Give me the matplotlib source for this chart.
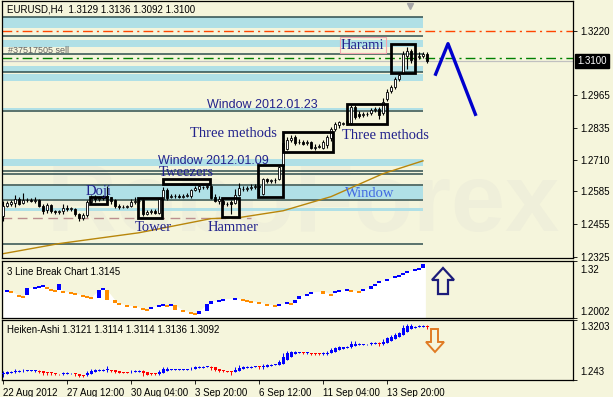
import matplotlib
matplotlib.use("Agg")
import matplotlib.pyplot as plt
from matplotlib.patches import Rectangle, Polygon
import numpy as np

plt.rcParams["font.family"] = ["Liberation Sans", "DejaVu Sans"]

BG = "#F5F5DC"
BAND = "#B0E0E6"
DARK = "#2F4F4F"
LABEL = "#22228C"

# EURUSD H4 candles (bar 0 = 22 Aug 2012)
opens = [
    1.2487, 1.2527, 1.2535, 1.2539, 1.2555, 1.2539, 1.2551, 1.2549, 1.2547, 1.2551,
    1.2527, 1.2511, 1.2531, 1.2507, 1.2503, 1.2505, 1.2519, 1.2515, 1.2515, 1.2495,
    1.2479, 1.2491, 1.2543, 1.2557, 1.2555, 1.2559, 1.2563, 1.2561, 1.2549, 1.2527,
    1.2523, 1.2521, 1.2525, 1.2543, 1.2547, 1.2551, 1.2495, 1.2503, 1.2507, 1.2499,
    1.2555, 1.2590, 1.2563, 1.2567, 1.2565, 1.2561, 1.2567, 1.2567, 1.2590, 1.2594,
    1.2602, 1.2600, 1.2606, 1.2563, 1.2547, 1.2547, 1.2535, 1.2543, 1.2539, 1.2571,
    1.2594, 1.2592, 1.2598, 1.2602, 1.2606, 1.2574, 1.2634, 1.2626, 1.2628, 1.2634,
    1.2685, 1.2753, 1.2788, 1.2800, 1.2780, 1.2778, 1.2776, 1.2780, 1.2757, 1.2761,
    1.2757, 1.2768, 1.2796, 1.2832, 1.2848, 1.2852, 1.2856, 1.2856, 1.2919, 1.2891,
    1.2887, 1.2891, 1.2895, 1.2907, 1.2911, 1.2895, 1.2951, 1.2982, 1.2998, 1.3030,
    1.3054, 1.3121, 1.3141, 1.3109, 1.3117, 1.3121, 1.3129,
]
closes = [
    1.2527, 1.2539, 1.2543, 1.2555, 1.2535, 1.2551, 1.2549, 1.2547, 1.2551, 1.2527,
    1.2507, 1.2531, 1.2507, 1.2503, 1.2505, 1.2519, 1.2515, 1.2517, 1.2495, 1.2479,
    1.2491, 1.2543, 1.2559, 1.2555, 1.2559, 1.2563, 1.2567, 1.2547, 1.2527, 1.2523,
    1.2521, 1.2525, 1.2543, 1.2547, 1.2545, 1.2495, 1.2503, 1.2507, 1.2499, 1.2555,
    1.2590, 1.2559, 1.2567, 1.2565, 1.2561, 1.2567, 1.2571, 1.2590, 1.2598, 1.2606,
    1.2600, 1.2606, 1.2559, 1.2547, 1.2555, 1.2535, 1.2533, 1.2535, 1.2571, 1.2598,
    1.2592, 1.2598, 1.2602, 1.2606, 1.2602, 1.2634, 1.2626, 1.2628, 1.2630, 1.2681,
    1.2776, 1.2788, 1.2796, 1.2776, 1.2778, 1.2772, 1.2780, 1.2757, 1.2761, 1.2765,
    1.2780, 1.2800, 1.2832, 1.2852, 1.2860, 1.2856, 1.2864, 1.2919, 1.2879, 1.2883,
    1.2891, 1.2889, 1.2907, 1.2911, 1.2887, 1.2939, 1.2978, 1.2998, 1.3030, 1.3046,
    1.3129, 1.3141, 1.3105, 1.3113, 1.3121, 1.3129, 1.3100,
]
highs = [
    1.2547, 1.2547, 1.2551, 1.2571, 1.2563, 1.2578, 1.2559, 1.2559, 1.2563, 1.2555,
    1.2535, 1.2539, 1.2535, 1.2511, 1.2511, 1.2535, 1.2531, 1.2523, 1.2519, 1.2499,
    1.2499, 1.2551, 1.2571, 1.2571, 1.2567, 1.2571, 1.2606, 1.2563, 1.2555, 1.2535,
    1.2531, 1.2531, 1.2555, 1.2563, 1.2559, 1.2555, 1.2511, 1.2515, 1.2515, 1.2559,
    1.2602, 1.2598, 1.2574, 1.2574, 1.2574, 1.2574, 1.2578, 1.2594, 1.2606, 1.2610,
    1.2606, 1.2614, 1.2610, 1.2574, 1.2567, 1.2555, 1.2543, 1.2551, 1.2594, 1.2618,
    1.2606, 1.2606, 1.2614, 1.2614, 1.2610, 1.2638, 1.2638, 1.2634, 1.2638, 1.2685,
    1.2784, 1.2800, 1.2808, 1.2808, 1.2792, 1.2788, 1.2788, 1.2784, 1.2772, 1.2772,
    1.2788, 1.2808, 1.2840, 1.2860, 1.2864, 1.2860, 1.2872, 1.2927, 1.2927, 1.2903,
    1.2899, 1.2899, 1.2915, 1.2919, 1.2919, 1.2955, 1.2990, 1.3006, 1.3038, 1.3054,
    1.3141, 1.3157, 1.3149, 1.3125, 1.3137, 1.3137, 1.3136,
]
lows = [
    1.2468, 1.2523, 1.2527, 1.2523, 1.2531, 1.2535, 1.2543, 1.2543, 1.2539, 1.2523,
    1.2495, 1.2499, 1.2499, 1.2495, 1.2495, 1.2495, 1.2507, 1.2507, 1.2487, 1.2468,
    1.2472, 1.2483, 1.2535, 1.2543, 1.2547, 1.2551, 1.2539, 1.2535, 1.2519, 1.2515,
    1.2519, 1.2519, 1.2523, 1.2535, 1.2539, 1.2487, 1.2491, 1.2495, 1.2495, 1.2495,
    1.2551, 1.2551, 1.2559, 1.2559, 1.2559, 1.2559, 1.2563, 1.2559, 1.2586, 1.2582,
    1.2594, 1.2594, 1.2555, 1.2543, 1.2535, 1.2527, 1.2527, 1.2495, 1.2535, 1.2567,
    1.2586, 1.2586, 1.2590, 1.2594, 1.2567, 1.2571, 1.2618, 1.2618, 1.2618, 1.2630,
    1.2681, 1.2749, 1.2780, 1.2768, 1.2772, 1.2768, 1.2768, 1.2753, 1.2749, 1.2757,
    1.2753, 1.2757, 1.2784, 1.2824, 1.2836, 1.2848, 1.2848, 1.2848, 1.2872, 1.2875,
    1.2879, 1.2883, 1.2887, 1.2899, 1.2872, 1.2887, 1.2943, 1.2974, 1.2990, 1.3022,
    1.3050, 1.3070, 1.3093, 1.3101, 1.3109, 1.3113, 1.3092,
]

# moving average (sampled at a few bars)
ma_pos = [0, 14, 34, 52, 59, 70, 82, 95, 105]
ma_val = [1.2337, 1.2377, 1.2420, 1.2476, 1.2480, 1.2507, 1.2563, 1.2654, 1.2705]

# forecast zigzag
zz_pos = [108, 111.25, 118.25]
zz_val = [1.3042, 1.3169, 1.2883]

# support / resistance zones and lines
bands = [(1.3232, 1.3275), (1.3157, 1.3184), (1.3058, 1.3081), (1.3022, 1.3050),
         (1.2907, 1.2915), (1.2685, 1.2713), (1.2555, 1.2606), (1.2507, 1.2519)]
levels = [1.3275, 1.3200, 1.3129, 1.3058, 1.2903, 1.2666, 1.2654, 1.2610, 1.2551, 1.2377]

# candlestick patterns: (first bar, last bar, low, high)
boxes = [(97, 103, 1.3054, 1.3169), (86, 96, 1.2852, 1.2931), (70, 82.5, 1.2741, 1.2820),
         (63.75, 70, 1.2563, 1.2689), (54.75, 59, 1.2483, 1.2559), (33.75, 39.75, 1.2479, 1.2559),
         (40, 51.75, 1.2614, 1.2634), (21.75, 26, 1.2535, 1.2563)]

# 3 line break bricks
lb_pos = [1, 2, 4, 5, 6, 8, 9, 10, 11, 12,
          13, 14, 15, 17, 18, 20, 21, 22, 24, 25,
          26, 28, 29, 31, 33, 35, 36, 37, 39, 40,
          41, 42, 43, 45, 47, 48, 49, 51, 52, 54,
          55, 58, 60, 61, 62, 64, 66, 68, 69, 71,
          72, 73, 74, 76, 77, 80, 82, 83, 84, 86,
          87, 89, 90, 92, 93, 94, 96, 98, 99, 100,
          101, 103, 104, 105]
lb_top = [1.2591, 1.2570, 1.2486, 1.2465, 1.2633, 1.2654, 1.2675, 1.2696, 1.2654, 1.2612,
          1.2591, 1.2717, 1.2570, 1.2549, 1.2528, 1.2486, 1.2465, 1.2444, 1.2591, 1.2633,
          1.2591, 1.2381, 1.2318, 1.2276, 1.2255, 1.2213, 1.2192, 1.2234, 1.2276, 1.2297,
          1.2276, 1.2297, 1.2276, 1.2171, 1.2129, 1.2108, 1.2150, 1.2297, 1.2360, 1.2381,
          1.2402, 1.2423, 1.2402, 1.2381, 1.2360, 1.2339, 1.2297, 1.2276, 1.2297, 1.2339,
          1.2318, 1.2381, 1.2465, 1.2507, 1.2549, 1.2570, 1.2507, 1.2570, 1.2591, 1.2612,
          1.2591, 1.2570, 1.2612, 1.2675, 1.2717, 1.2780, 1.2822, 1.2885, 1.2906, 1.2948,
          1.2990, 1.3032, 1.3053, 1.3145]
lb_bot = [1.2570, 1.2528, 1.2465, 1.2444, 1.2486, 1.2633, 1.2654, 1.2675, 1.2612, 1.2591,
          1.2570, 1.2591, 1.2549, 1.2528, 1.2507, 1.2465, 1.2444, 1.2423, 1.2423, 1.2591,
          1.2381, 1.2318, 1.2297, 1.2255, 1.2234, 1.2192, 1.2171, 1.2213, 1.2255, 1.2276,
          1.2255, 1.2276, 1.2171, 1.2150, 1.2108, 1.2087, 1.2087, 1.2150, 1.2297, 1.2360,
          1.2381, 1.2402, 1.2381, 1.2360, 1.2339, 1.2318, 1.2276, 1.2255, 1.2276, 1.2318,
          1.2297, 1.2318, 1.2402, 1.2486, 1.2528, 1.2507, 1.2486, 1.2528, 1.2549, 1.2591,
          1.2570, 1.2549, 1.2570, 1.2612, 1.2675, 1.2738, 1.2801, 1.2864, 1.2885, 1.2927,
          1.2969, 1.3011, 1.3032, 1.3053]
lb_up = [1, 0, 0, 0, 1, 1, 1, 1, 0, 0,
         0, 1, 0, 0, 0, 0, 0, 0, 1, 1,
         0, 0, 0, 0, 0, 0, 0, 1, 1, 1,
         0, 1, 0, 0, 0, 0, 1, 1, 1, 1,
         1, 1, 0, 0, 0, 0, 0, 0, 1, 1,
         0, 1, 1, 1, 1, 0, 0, 1, 1, 1,
         0, 0, 1, 1, 1, 1, 1, 1, 1, 1,
         1, 1, 1, 1]

date_pos = [0, 16, 32, 48, 64, 80, 96]
date_labels = ["22 Aug 2012", "27 Aug 12:00", "30 Aug 04:00", "3 Sep 20:00",
               "6 Sep 12:00", "11 Sep 04:00", "13 Sep 20:00"]
price_ticks = [1.3220, 1.2965, 1.2835, 1.2710, 1.2585, 1.2455, 1.2325]

o, c, h, l = (np.array(v) for v in (opens, closes, highs, lows))
x = np.arange(len(o))
XL = (-0.25, 142.5)
ZONE_END = 105

W, H = 613, 397
fig = plt.figure(figsize=(W / 100, H / 100), dpi=100, facecolor=BG)


def panel(top, bottom):
    a = fig.add_axes([2 / W, 1 - bottom / H, 571 / W, (bottom - top) / H])
    a.set_facecolor(BG)
    a.set_xlim(*XL)
    for s in a.spines.values():
        s.set_color("black")
        s.set_linewidth(0.9)
    a.tick_params(labelsize=7, length=3, width=0.6, pad=2)
    return a


ax = panel(1, 258)
ax2 = panel(261, 318)
ax3 = panel(320, 380)

# ---------------- main chart ----------------
ax.set_ylim(1.2320, 1.3338)
ax.text(75, 1.2525, "RoboForex", fontsize=70, fontweight="bold", color="#EFEFDA",
        ha="center", va="center", zorder=0)
for lo_, hi_ in bands:
    ax.fill_between([XL[0], ZONE_END], lo_, hi_, color=BAND, lw=0, zorder=1)
ax.hlines(levels, XL[0], ZONE_END, color=DARK, lw=1.1, zorder=1.5)
ax.axhline(1.3220, color="#FF4500", lw=1, ls=(0, (7, 3, 1.5, 3)), zorder=1.5)
ax.axhline(1.3113, color="#008000", lw=1, ls=(0, (7, 3, 1.5, 3)), zorder=1.5)
ax.axhline(1.3100, color="#C0C0C0", lw=0.9, zorder=1.5)
ax.hlines(1.2479, XL[0], 62, color="#BC8F8F", lw=1, ls=(0, (7, 4)), zorder=1.5)
ax.plot(ma_pos, ma_val, color="#B8860B", lw=1, zorder=2)

up = c >= o
ax.vlines(x, l, h, color="black", lw=0.8, zorder=3)
body = np.maximum(np.abs(c - o), 0.00012)
ax.bar(x, body, bottom=np.minimum(o, c), width=0.65,
       color=np.where(up, "white", "black"), edgecolor="black", linewidth=0.6, zorder=4)

for x0, x1, y0, y1 in boxes:
    ax.add_patch(Rectangle((x0, y0), x1 - x0, y1 - y0, fill=False, ec="black", lw=2, zorder=5))

ax.plot(zz_pos, zz_val, color="#0000CD", lw=2.4, solid_capstyle="butt", zorder=5)
ax.plot(101.75, 1.3320, marker="v", color="#A8A8A8", ms=5, zorder=5)

serif = dict(family="Liberation Serif", fontsize=10.5, color=LABEL, va="center", ha="left", zorder=6)
ax.text(84.5, 1.3163, "Harami", bbox=dict(boxstyle="square,pad=0.1", fc="none", ec="#F4A6AE", lw=0.8), **serif)
ax.text(46.75, 1.2812, "Three methods", **serif)
ax.text(84.75, 1.2804, "Three methods", **serif)
ax.text(39, 1.2658, "Tweezers", **serif)
ax.text(20.75, 1.2582, "Doji", **serif)
ax.text(33, 1.2440, "Tower", **serif)
ax.text(51.25, 1.2440, "Hammer", **serif)
ax.text(85.5, 1.2574, "Window", family="Liberation Serif", fontsize=10.5, color="#4169E1",
        va="center", ha="left", zorder=6)
ax.text(51, 1.2927, "Window 2012.01.23", fontsize=9, color=LABEL, va="center", zorder=6)
ax.text(38.75, 1.2705, "Window 2012.01.09", fontsize=9, color=LABEL, va="center", zorder=6)
ax.text(1.25, 1.3141, "#37517505 sell", fontsize=6.5, color="#606060", va="center", zorder=6)
ax.text(5 / 571, 0.965, "EURUSD,H4  1.3129 1.3136 1.3092 1.3100", transform=ax.transAxes,
        fontsize=7, va="center", zorder=6)

ax.set_xticks([])
ax.yaxis.tick_right()
ax.set_yticks(price_ticks)
ax.set_yticklabels([f"{v:.4f}" for v in price_ticks])
ax.annotate("1.3100", xy=(1, 1.3100), xycoords=("axes fraction", "data"), xytext=(3, 0),
            textcoords="offset points", fontsize=7, color="white", va="center",
            bbox=dict(boxstyle="square,pad=0.2", fc="black", ec="black"), annotation_clip=False)

# ---------------- 3 line break ----------------
ax2.set_ylim(1.2002, 1.3200)
ax2.fill_between([0] + lb_pos + [105.6], [lb_top[0]] + lb_top + [lb_top[-1]], 1.2002,
                 color="white", lw=0, zorder=1)
lb_colors = ["#0000FF" if u else "#FF8C00" for u in lb_up]
lb_h = np.maximum(np.array(lb_top) - np.array(lb_bot), 0.0035)
ax2.bar(lb_pos, lb_h, bottom=np.array(lb_top) - lb_h, width=0.95,
        color=lb_colors, lw=0, zorder=2)
ax2.add_patch(Polygon([(107.25, 1.2801), (110, 1.3053), (112.75, 1.2801), (111.25, 1.2801),
                       (111.25, 1.2506), (108.75, 1.2506), (108.75, 1.2801)],
                      closed=True, fc=BG, ec="#1C1C7A", lw=1.6, zorder=3))
ax2.text(5 / 571, 0.80, "3 Line Break Chart 1.3145", transform=ax2.transAxes, fontsize=7, va="center")
ax2.set_xticks([])
ax2.yaxis.tick_right()
ax2.set_yticks([1.2002, 1.3200])
ax2.set_yticklabels([])
ax2.text(1.012, 0.842, "1.32", transform=ax2.transAxes, fontsize=7, va="center")
ax2.text(1.012, 0.111, "1.2002", transform=ax2.transAxes, fontsize=7, va="center")

# ---------------- Heiken-Ashi ----------------
ha_c = (o + h + l + c) / 4
ha_o = np.empty_like(ha_c)
ha_o[0] = (o[0] + c[0]) / 2
for i in range(1, len(ha_c)):
    ha_o[i] = (ha_o[i - 1] + ha_c[i - 1]) / 2
ha_h = np.maximum(h, np.maximum(ha_o, ha_c))
ha_l = np.minimum(l, np.minimum(ha_o, ha_c))
ha_col = np.where(ha_c >= ha_o, "#0000FF", "#FF0000")

ax3.set_ylim(1.2430, 1.3203)
ax3.vlines(x, ha_l, ha_h, colors=ha_col, lw=0.7, zorder=2)
ax3.bar(x, np.maximum(np.abs(ha_c - ha_o), 0.0010), bottom=np.minimum(ha_o, ha_c),
        width=0.75, color=ha_col, lw=0, zorder=3)
ax3.add_patch(Polygon([(107, 1.3087), (108.75, 1.3087), (108.75, 1.2920), (110.25, 1.2920),
                       (108, 1.2791), (105.75, 1.2920), (107, 1.2920)],
                      closed=True, fc=BG, ec="#E07B24", lw=1.4, zorder=3))
ax3.text(5 / 571, 0.83, "Heiken-Ashi 1.3121 1.3114 1.3114 1.3136 1.3092",
         transform=ax3.transAxes, fontsize=7, va="center")
ax3.yaxis.tick_right()
ax3.set_yticks([1.2430, 1.3203])
ax3.set_yticklabels([])
ax3.text(1.012, 0.875, "1.3203", transform=ax3.transAxes, fontsize=7, va="center")
ax3.text(1.012, 0.128, "1.243", transform=ax3.transAxes, fontsize=7, va="center")
ax3.set_xticks(date_pos)
ax3.set_xticklabels(date_labels, ha="left")
ax3.tick_params(axis="x", pad=3)

fig.savefig("out.png", dpi=100, facecolor=BG)
